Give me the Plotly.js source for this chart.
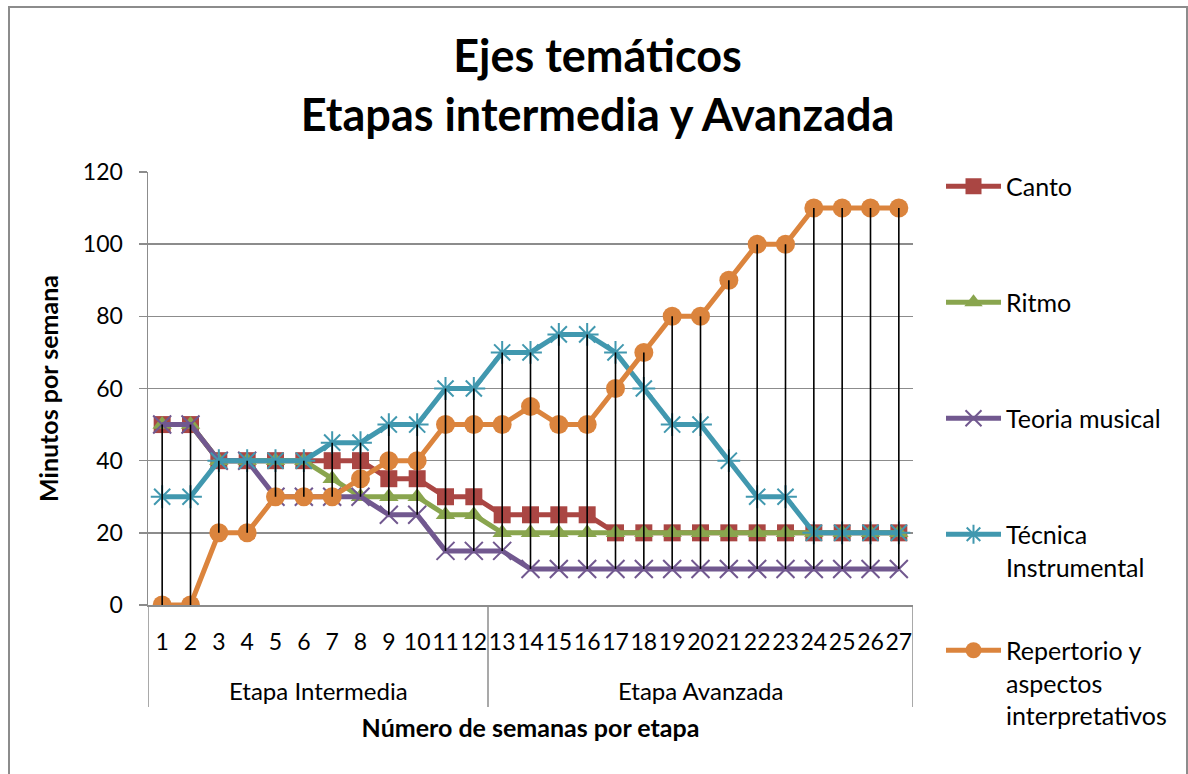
<!DOCTYPE html>
<html><head><meta charset="utf-8">
<script src="https://cdn.plot.ly/plotly-3.0.1.min.js"></script>
<style>
body{margin:0;background:#fff;overflow:hidden}
#frame{position:absolute;left:8px;top:6px;width:1176px;height:800px;border:2px solid #8c8c8c;pointer-events:none}
</style>
</head><body>
<div id="chart" style="width:1188px;height:774px"></div>
<div id="frame"></div>
<script>
const weeks = ['1','2','3','4','5','6','7','8','9','10','11','12','13','14','15','16','17','18','19','20','21','22','23','24','25','26','27'];
const stages = ['Etapa Intermedia','Etapa Intermedia','Etapa Intermedia','Etapa Intermedia','Etapa Intermedia','Etapa Intermedia',
  'Etapa Intermedia','Etapa Intermedia','Etapa Intermedia','Etapa Intermedia','Etapa Intermedia','Etapa Intermedia',
  'Etapa Avanzada','Etapa Avanzada','Etapa Avanzada','Etapa Avanzada','Etapa Avanzada','Etapa Avanzada','Etapa Avanzada',
  'Etapa Avanzada','Etapa Avanzada','Etapa Avanzada','Etapa Avanzada','Etapa Avanzada','Etapa Avanzada','Etapa Avanzada','Etapa Avanzada'];
const canto      = [50,50,40,40,40,40,40,40,35,35,30,30,25,25,25,25,20,20,20,20,20,20,20,20,20,20,20];
const ritmo      = [50,50,40,40,40,40,35,30,30,30,25,25,20,20,20,20,20,20,20,20,20,20,20,20,20,20,20];
const teoria     = [50,50,40,40,30,30,30,30,25,25,15,15,15,10,10,10,10,10,10,10,10,10,10,10,10,10,10];
const tecnica    = [30,30,40,40,40,40,45,45,50,50,60,60,70,70,75,75,70,60,50,50,40,30,30,20,20,20,20];
const repertorio = [0,0,20,20,30,30,30,35,40,40,50,50,50,55,50,50,60,70,80,80,90,100,100,110,110,110,110];
const seriesNames = ['Canto<br> ','Ritmo<br> ','Teoria musical<br> ','Técnica<br>Instrumental','Repertorio y<br>aspectos<br>interpretativos'];

const FONT = 'Lato, "Open Sans", sans-serif';
const grid = '#8c8c8c';
const PLOT_H = 774 - 172 - 169;

const specs = [
  {y: canto, color: '#AA4643', symbol: 'square', size: 17, lw: 0},
  {y: ritmo, color: '#89A54E', symbol: 'triangle-up', size: 17, lw: 0},
  {y: teoria, color: '#71588F', symbol: 'x-thin-open', size: 18, lw: 2},
  {y: tecnica, color: '#4198AF', symbol: 'asterisk-open', size: 19, lw: 2},
  {y: repertorio, color: '#DB843D', symbol: 'circle', size: 19, lw: 0}
];

const traces = specs.map((s, i) => ({
  type: 'scatter', mode: 'lines+markers',
  x: weeks, y: s.y,
  name: seriesNames[i],
  legendgroup: 'g' + i,
  line: {color: s.color, width: 5},
  marker: {symbol: s.symbol, size: s.size, color: s.color, line: {color: s.color, width: s.lw}},
  hoverinfo: 'skip'
}));

// high-low lines
const hlX = [], hlY = [];
for (let i = 0; i < weeks.length; i++) {
  const vals = specs.map(s => s.y[i]);
  hlX.push(weeks[i], weeks[i], weeks[i]);
  hlY.push(Math.min(...vals), Math.max(...vals), null);
}
traces.push({
  type: 'scatter', mode: 'lines', x: hlX, y: hlY,
  line: {color: '#000', width: 1.6}, showlegend: false, hoverinfo: 'skip', connectgaps: false
});

// stage groups: dividers and labels
const shapes = [], annotations = [];
const divY = -(707 - 605) / PLOT_H;
let start = 0;
for (let i = 1; i <= stages.length; i++) {
  if (i === stages.length || stages[i] !== stages[start]) {
    annotations.push({
      text: stages[start], xref: 'x', yref: 'paper',
      x: (start + i - 1) / 2, y: -(690 - 605) / PLOT_H,
      xanchor: 'center', yanchor: 'middle', showarrow: false,
      font: {family: FONT, size: 24, color: '#000'}
    });
    if (start === 0) shapes.push({type: 'line', xref: 'x', yref: 'paper', x0: -0.5, x1: -0.5, y0: 0, y1: divY, line: {color: grid, width: 1.5}});
    shapes.push({type: 'line', xref: 'x', yref: 'paper', x0: i - 0.5, x1: i - 0.5, y0: 0, y1: divY, line: {color: grid, width: 1.5}});
    start = i;
  }
}

const layout = {
  width: 1188, height: 774,
  margin: {l: 148, r: 275, t: 172, b: 169},
  paper_bgcolor: '#fff', plot_bgcolor: '#fff',
  font: {family: FONT, color: '#000', size: 23},
  hovermode: false,
  title: {
    text: 'Ejes temáticos<br>Etapas intermedia y Avanzada',
    font: {family: FONT, size: 45, weight: 'bold', color: '#000'},
    x: 0.503, xanchor: 'center', xref: 'container',
    y: 1 - 72/774, yanchor: 'middle', yref: 'container'
  },
  xaxis: {
    type: 'category', range: [-0.5, 26.5],
    tickmode: 'linear', dtick: 1, tick0: 0,
    showline: true, linecolor: grid, linewidth: 1.5,
    ticks: '', showgrid: false, zeroline: false,
    tickangle: 0,
    ticklabelstandoff: 16,
    tickfont: {family: FONT, size: 23, color: '#000'},
    title: {text: 'Número de semanas por etapa', font: {family: FONT, size: 25, weight: 'bold', color: '#000'}, standoff: 65},
    automargin: false
  },
  yaxis: {
    range: [0, 120], dtick: 20, tick0: 0,
    showgrid: true, gridcolor: grid, gridwidth: 1.5,
    showline: true, linecolor: grid, linewidth: 1.5,
    ticks: 'outside', ticklen: 8, tickcolor: grid, tickwidth: 1.5,
    ticklabelstandoff: 11,
    zeroline: false,
    tickfont: {family: FONT, size: 23, color: '#000'},
    title: {text: 'Minutos por semana', font: {family: FONT, size: 25, weight: 'bold', color: '#000'}, standoff: 17},
    automargin: false
  },
  shapes: shapes,
  annotations: annotations,
  showlegend: true,
  legend: {
    xref: 'container', yref: 'container',
    x: 941/1188, xanchor: 'left',
    y: 1 - 163.5/774, yanchor: 'top',
    font: {family: FONT, size: 25, color: '#000'},
    valign: 'top',
    tracegroupgap: 48,
    itemwidth: 55,
    maxheight: 700,
    bgcolor: 'rgba(0,0,0,0)', borderwidth: 0
  }
};

Plotly.newPlot('chart', traces, layout, {displayModeBar: false, staticPlot: true});
</script>
</body></html>
